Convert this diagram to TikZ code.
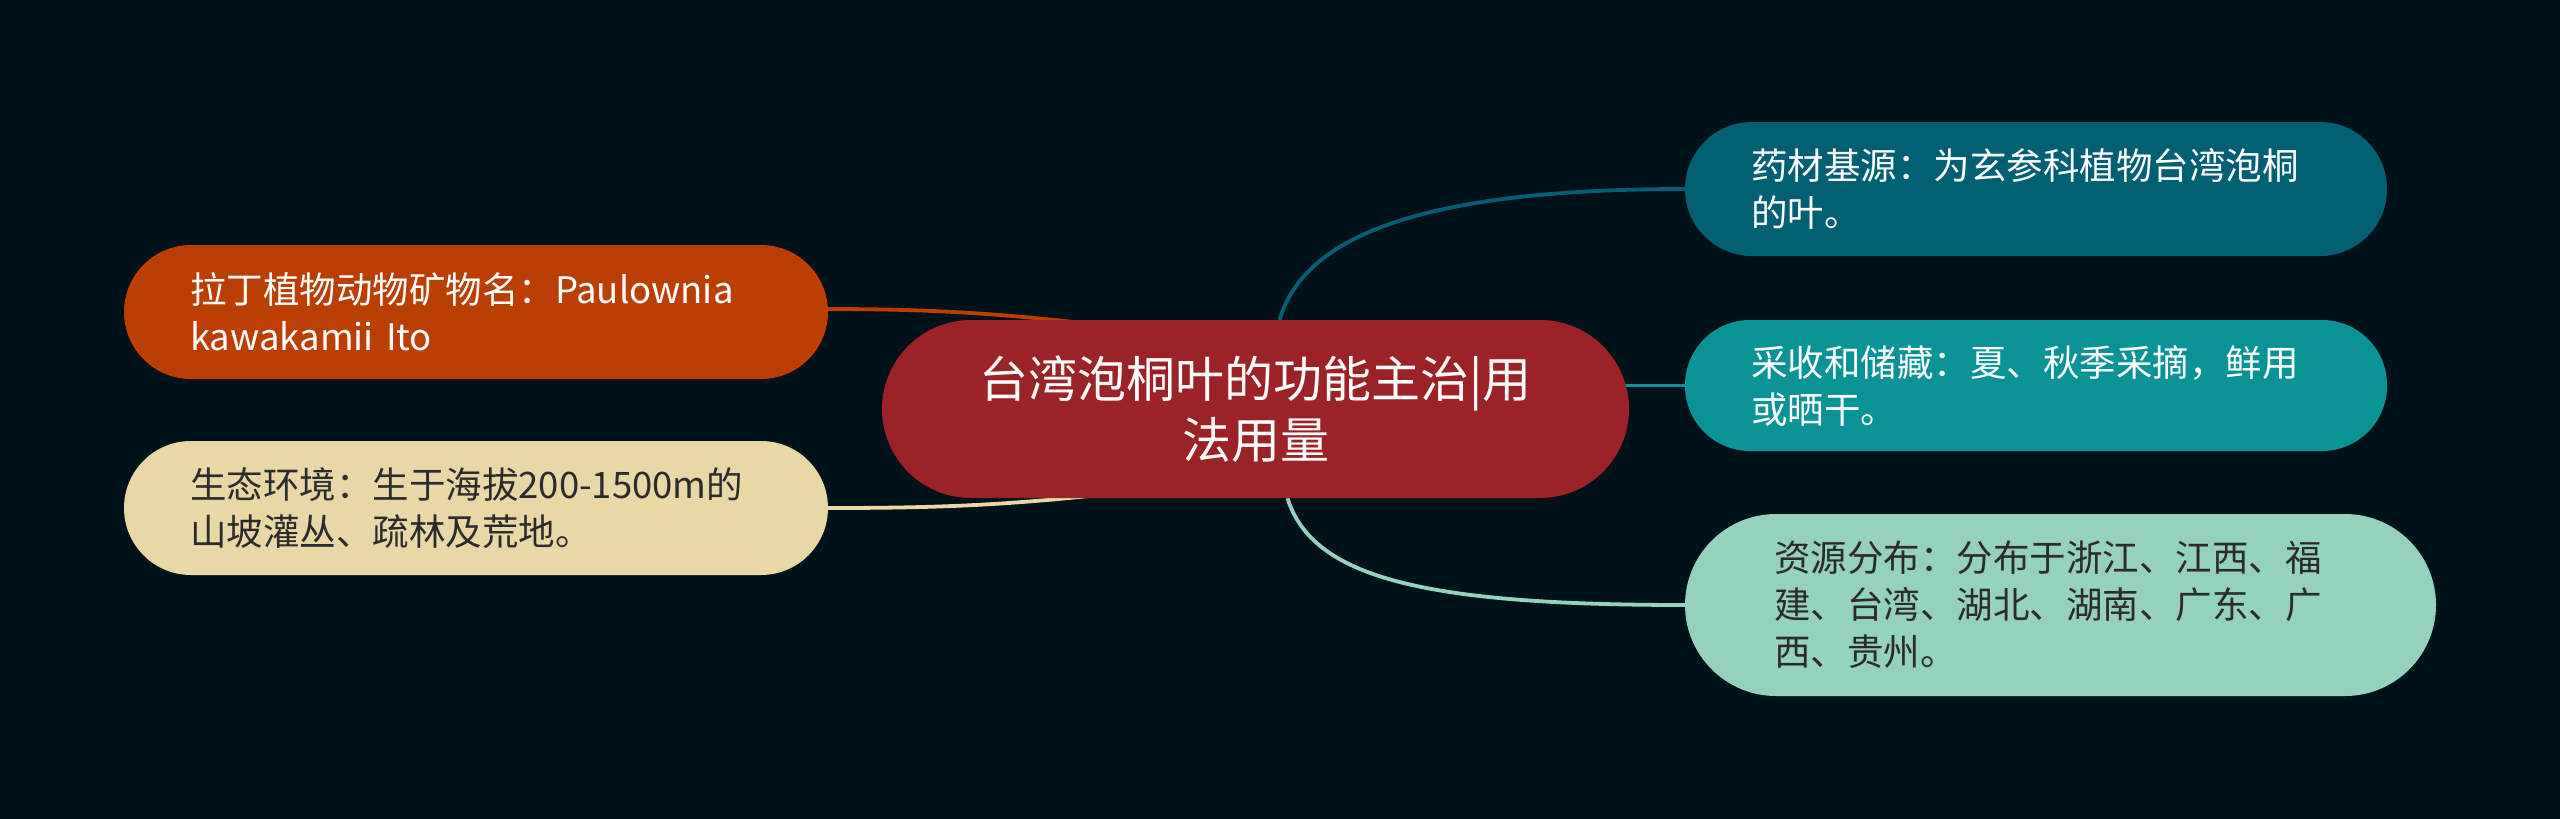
\documentclass[tikz,border=0pt]{standalone}
\usepackage{fontspec}
\setmainfont{Noto Sans CJK SC}
\definecolor{bg}{HTML}{001219}
\definecolor{cmain}{HTML}{9B2226}
\definecolor{corange}{HTML}{BB3E03}
\definecolor{csand}{HTML}{E9D8A6}
\definecolor{cdteal}{HTML}{005F73}
\definecolor{cteal}{HTML}{0A9396}
\definecolor{cmint}{HTML}{94D2BD}
\definecolor{darktext}{HTML}{2B2B2B}
\pgfdeclarelayer{back}
\pgfdeclarelayer{links}
\pgfsetlayers{back,links,main}
\tikzset{
  leaf/.style={inner xsep=0pt, inner ysep=0pt, align=left, font=\fontsize{36.5}{47}\selectfont},
  rootnode/.style={inner sep=0pt, align=center, text=white, font=\fontsize{49}{61}\selectfont},
  link/.style={line width=3.8pt}
}
\begin{document}
\begin{tikzpicture}[x=1pt,y=-1pt]
\begin{pgfonlayer}{back}
\fill[bg] (0,0) rectangle (2560,819);
\end{pgfonlayer}
\useasboundingbox (0,0) rectangle (2560,819);
% nodes
\node[rootnode, fill=cmain, rounded corners=89pt, minimum width=747, minimum height=178] (c) at (1255.5,409) {台湾泡桐叶的功能主治|用\\法用量};
\node[leaf, fill=cdteal, text=white, rounded corners=67pt, minimum width=702, minimum height=134, text width=570] (r1) at (2036,189) {药材基源：为玄参科植物台湾泡桐\\的叶。};
\node[leaf, fill=cteal, text=white, rounded corners=65pt, minimum width=702, minimum height=131, text width=570] (r2) at (2036,385.5) {采收和储藏：夏、秋季采摘，鲜用\\或晒干。};
\node[leaf, fill=cmint, text=darktext, rounded corners=91pt, minimum width=751, minimum height=182, text width=573] (r3) at (2060.5,605) {资源分布：分布于浙江、江西、福\\建、台湾、湖北、湖南、广东、广\\西、贵州。};
\node[leaf, fill=corange, text=white, rounded corners=67pt, minimum width=704, minimum height=134, text width=572] (l1) at (476,312) {拉丁植物动物矿物名：Paulownia\\kawakamii Ito};
\node[leaf, fill=csand, text=darktext, rounded corners=67pt, minimum width=704, minimum height=134, text width=572] (l2) at (476,508) {生态环境：生于海拔200-1500m的\\山坡灌丛、疏林及荒地。};
% hidden ends of left connectors
\coordinate (e1) at (1180,335);
\coordinate (e2) at (1180,485);
% connectors
\begin{pgfonlayer}{links}
\draw[link, cdteal] ([xshift=24pt]c.north) .. controls +(25,-85) and +(-260,0) .. (r1.west);
\draw[link, cteal] (r2.west) -- (r2.west -| c.center);
\draw[link, cmint] ([xshift=32pt]c.south) .. controls +(25,80) and +(-260,0) .. (r3.west);
\draw[link, corange] ([yshift=3pt]l1.east) .. controls +(120,0) and +(-150,-20) .. (e1);
\draw[link, csand] (l2.east) .. controls +(120,0) and +(-150,20) .. (e2);
\end{pgfonlayer}
\end{tikzpicture}
\end{document}
